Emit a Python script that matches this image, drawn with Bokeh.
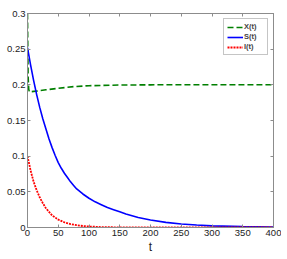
from bokeh.plotting import figure
from bokeh.models import Range1d, FixedTicker, LinearAxis, Legend, LegendItem
from bokeh.embed import file_html
from bokeh.resources import INLINE

# ---- data ----
t_x = [0, 0.5, 1, 2, 3, 5, 10, 20, 30, 50, 75, 100, 150, 200, 250, 300, 350, 400]
x_vals = [0.300, 0.250, 0.212, 0.194, 0.190, 0.1903, 0.1908, 0.1918, 0.1930, 0.1952,
          0.1975, 0.1988, 0.1997, 0.2000, 0.2001, 0.2001, 0.2001, 0.2001]

t_s = [0, 5, 10, 15, 20, 25, 30, 35, 40, 45, 50, 55, 60, 65, 70, 75, 80, 90, 100,
       110, 120, 130, 140, 150, 160, 180, 200, 225, 250, 275, 300, 350, 400]
s_vals = [0.252, 0.228, 0.206, 0.186, 0.168, 0.152, 0.138, 0.124, 0.112, 0.101,
          0.091, 0.083, 0.076, 0.070, 0.064, 0.059, 0.054, 0.047, 0.041,
          0.036, 0.032, 0.028, 0.025, 0.022, 0.019, 0.014, 0.0105, 0.0072,
          0.0050, 0.0034, 0.0023, 0.0012, 0.0007]

t_i = [0, 5, 10, 15, 20, 25, 30, 35, 40, 45, 50, 60, 70, 80, 90, 100, 120, 140, 160,
       200, 250, 300, 350, 400]
i_vals = [0.100, 0.080, 0.064, 0.052, 0.042, 0.034, 0.027, 0.022, 0.017, 0.014,
          0.011, 0.0073, 0.0048, 0.0032, 0.0021, 0.0014, 0.0006, 0.0003, 0.0001,
          0.0, 0.0, 0.0, 0.0, 0.0]

x_ticks = [0, 50, 100, 150, 200, 250, 300, 350, 400]
y_ticks = [0, 0.05, 0.1, 0.15, 0.2, 0.25, 0.3]
y_tick_labels = ["0", "0.05", "0.1", "0.15", "0.2", "0.25", "0.3"]
series_names = ["X(t)", "S(t)", "I(t)"]

FONT = "Liberation Sans"
AX = "#8c8c8c"

p = figure(frame_width=246, frame_height=214, output_backend="svg", toolbar_location=None,
           x_range=Range1d(0, 400), y_range=Range1d(0, 0.3),
           min_border_left=27, min_border_right=8, min_border_top=13,
           min_border_bottom=30)
p.grid.visible = False
p.outline_line_color = AX
p.background_fill_color = "white"
p.border_fill_color = "white"

def style(ax, labels=True):
    ax.axis_line_color = AX
    ax.major_tick_line_color = AX
    ax.minor_tick_line_color = None
    ax.major_tick_in = 3
    ax.major_tick_out = 0
    ax.major_label_standoff = 2
    ax.major_label_text_font = FONT
    ax.major_label_text_font_size = "9.5px"
    ax.major_label_text_color = "#222222"

xa = p.xaxis[0]
ya = p.yaxis[0]
xa.ticker = FixedTicker(ticks=x_ticks)
ya.ticker = FixedTicker(ticks=y_ticks)
ya.major_label_overrides = {v: s for v, s in zip(y_ticks, y_tick_labels)}
style(xa)
style(ya)
xa.axis_label = "t"
xa.axis_label_text_font = FONT
xa.axis_label_text_font_size = "12px"
xa.axis_label_text_font_style = "normal"
xa.axis_label_text_color = "#222222"
xa.axis_label_standoff = 1

top = LinearAxis(ticker=FixedTicker(ticks=x_ticks))
style(top)
top.major_label_overrides = {v: "" for v in x_ticks}
p.add_layout(top, "above")
right = LinearAxis(ticker=FixedTicker(ticks=y_ticks))
style(right)
right.major_label_overrides = {v: "" for v in y_ticks}
p.add_layout(right, "right")

rx = p.line(t_x, x_vals, line_color="#007f00", line_width=1.6, line_dash="6 3")
rs = p.line(t_s, s_vals, line_color="#0000ff", line_width=1.6)
ri = p.line(t_i, i_vals, line_color="#ff0000", line_width=1.8, line_dash="2 1")

legend = Legend(items=[LegendItem(label=series_names[0], renderers=[rx]),
                       LegendItem(label=series_names[1], renderers=[rs]),
                       LegendItem(label=series_names[2], renderers=[ri])],
                location="top_right")
legend.label_text_font = FONT
legend.label_text_font_size = "7.5px"
legend.label_text_font_style = "bold"
legend.label_height = 8
legend.glyph_height = 8
legend.glyph_width = 16
legend.label_standoff = 1
legend.spacing = 1
legend.padding = 3
legend.margin = 5
legend.border_line_color = AX
legend.background_fill_alpha = 1
p.add_layout(legend)

open("out.html", "w").write(file_html(p, INLINE))
